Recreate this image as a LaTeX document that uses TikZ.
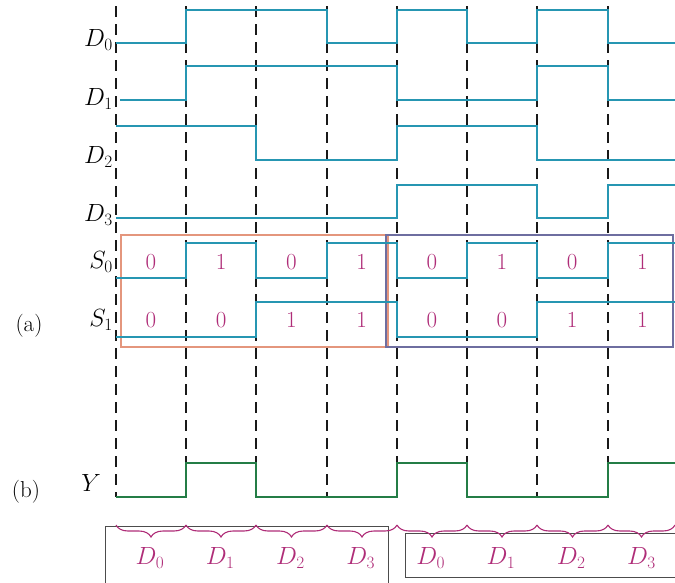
\documentclass[tikz,border=0pt]{standalone}
\usetikzlibrary{decorations.pathreplacing}
\definecolor{wave}{RGB}{38,150,178}
\definecolor{ygreen}{RGB}{36,125,70}
\definecolor{mag}{RGB}{175,45,120}
\definecolor{obox}{RGB}{228,150,125}
\definecolor{bbox}{RGB}{110,110,160}
\begin{document}
\begin{tikzpicture}[x=1pt,y=-1pt,
  wv/.style={wave,line width=2.6pt,line join=miter},
  yv/.style={ygreen,line width=2.8pt},
  grid/.style={black!90,line width=1.2pt,dash pattern=on 11pt off 7pt},
  lbl/.style={font=\fontsize{23}{26}\selectfont,anchor=east,inner sep=0pt},
  num/.style={mag,font=\fontsize{23}{26}\selectfont,inner sep=0pt},
  blab/.style={mag,font=\fontsize{24}{28}\selectfont,inner sep=0pt},
  brc/.style={mag,line width=1.1pt,decorate,decoration={brace,mirror,amplitude=12pt}}]
\useasboundingbox (0,0) rectangle (675,582);
% dashed grid
\foreach \x in {116,186,256,327,397,467,537,608}
  \draw[grid] (\x,6) -- (\x,497);
% boxes
\draw[obox,line width=1.2pt] (121,235) rectangle (388,347);
\draw[bbox,line width=1.2pt] (386,235) rectangle (673,347);
% waveforms
\draw[wv] (116,43)--(186,43)--(186,10)--(327,10)--(327,43)--(397,43)--(397,10)--(467,10)--(467,43)--(537,43)--(537,10)--(608,10)--(608,43)--(675,43);
\draw[wv] (120,100)--(186,100)--(186,66)--(397,66)--(397,100)--(537,100)--(537,66)--(608,66)--(608,100)--(675,100);
\draw[wv] (116,126)--(256,126)--(256,160)--(397,160)--(397,126)--(537,126)--(537,160)--(675,160);
\draw[wv] (116,218)--(397,218)--(397,185)--(537,185)--(537,218)--(608,218)--(608,185)--(675,185);
\draw[wv] (116,278)--(186,278)--(186,243)--(256,243)--(256,278)--(327,278)--(327,243)--(397,243)--(397,278)--(467,278)--(467,243)--(537,243)--(537,278)--(608,278)--(608,243)--(675,243);
\draw[wv] (116,337)--(256,337)--(256,302)--(397,302)--(397,337)--(537,337)--(537,302)--(675,302);
\draw[yv] (116,497)--(186,497)--(186,463)--(256,463)--(256,497)--(397,497)--(397,463)--(467,463)--(467,497)--(608,497)--(608,463)--(675,463);
% labels
\node[lbl] (lD0) at (113,40) {$D_0$};
\node[lbl] (lD1) at (113,99) {$D_1$};
\node[lbl] (lD2) at (113,157) {$D_2$};
\node[lbl] (lD3) at (113,215) {$D_3$};
\node[lbl] (lS0) at (113,262) {$S_0$};
\node[lbl] (lS1) at (113,320) {$S_1$};
\node[lbl] (lY) at (101,483) {$Y$};
\node[lbl,anchor=center] (la) at (29,326) {(a)};
\node[lbl,anchor=center] (lb) at (26,492) {(b)};
% select numbers
\foreach \v [count=\i from 0] in {0,1,0,1,0,1,0,1}
  \node[num] (s0n\i) at (151+70.2*\i,262) {\v};
\foreach \v [count=\i from 0] in {0,0,1,1,0,0,1,1}
  \node[num] (s1n\i) at (151+70.2*\i,320) {\v};
% bottom boxes
\draw[black!70,line width=1pt] (105,600) -- (105,526) -- (388,526) -- (388,600);
\draw[black!70,line width=1pt] (690,577) -- (405,577) -- (405,533) -- (690,533);
% braces
\foreach \a/\b [count=\i from 0] in {116/186,186/256,256/327,327/397,397/467,467/537,537/608,608/675}
  \draw[brc] (\a,525) -- (\b,525);
\foreach \k [count=\i from 0] in {0,1,2,3,0,1,2,3}
  \node[blab] (bD\i) at (150+70.2*\i,558) {$D_\k$};
\end{tikzpicture}
\end{document}
